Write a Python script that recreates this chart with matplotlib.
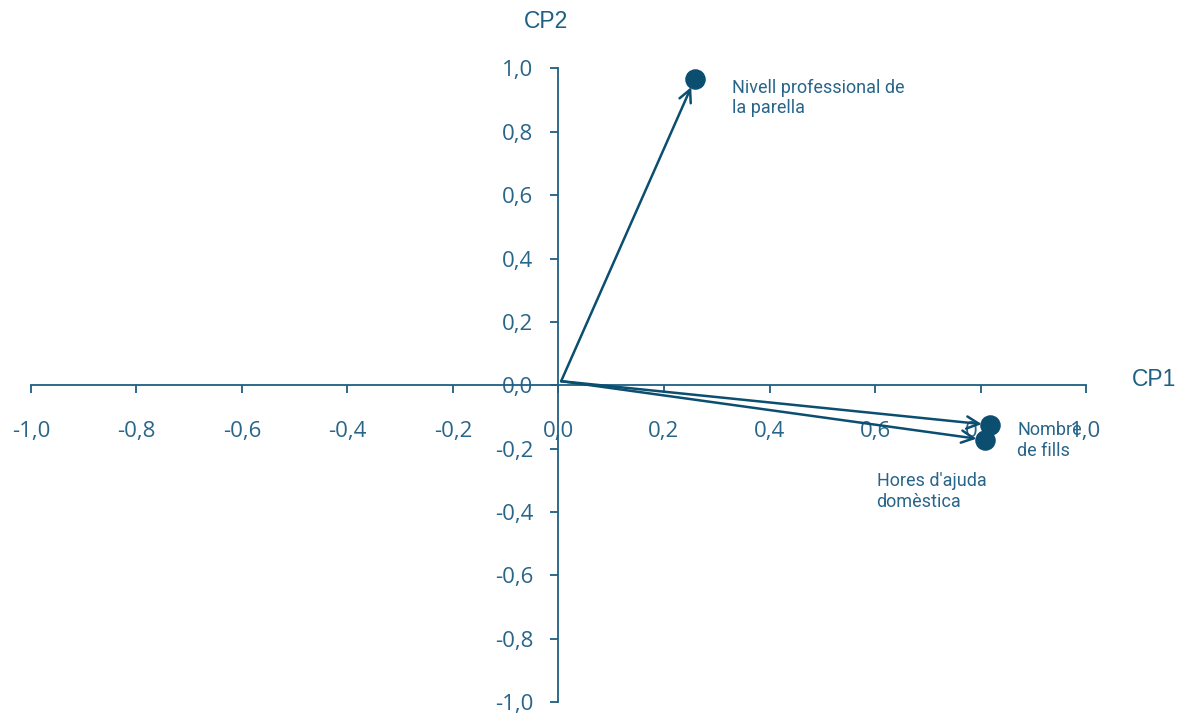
import numpy as np
import matplotlib.pyplot as plt
from matplotlib.ticker import FuncFormatter

# loadings on the first two components
variables = ["Nivell professional de\nla parella", "Nombre\nde fills", "Hores d'ajuda\ndomèstica"]
cp1 = [0.258, 0.818, 0.808]
cp2 = [0.965, -0.125, -0.172]
origin = (0.005, 0.013)
ticks = [-1.0, -0.8, -0.6, -0.4, -0.2, 0.0, 0.2, 0.4, 0.6, 0.8, 1.0]

axis_col = '#1f5f83'
text_col = '#28658a'
mark_col = '#0b4e70'

fig = plt.figure(figsize=(11.86, 7.14), dpi=100)
ax = fig.add_axes([0.0261, 0.0164, 0.8896, 0.8879])
ax.set_xlim(-1, 1)
ax.set_ylim(-1, 1)

for s in ['top', 'right']:
    ax.spines[s].set_visible(False)
for s in ['left', 'bottom']:
    ax.spines[s].set_position('zero')
    ax.spines[s].set_color(axis_col)
    ax.spines[s].set_linewidth(1.3)

fmt = FuncFormatter(lambda v, p: ('%.1f' % v).replace('.', ','))
ax.set_xticks(ticks)
ax.set_yticks(ticks)
ax.xaxis.set_major_formatter(fmt)
ax.yaxis.set_major_formatter(fmt)
ax.tick_params(axis='x', direction='out', length=6, width=1.3, color=axis_col,
               labelcolor=text_col, labelsize=16, pad=20)
ax.tick_params(axis='y', direction='out', length=6, width=1.3, color=axis_col,
               labelcolor=text_col, labelsize=16, pad=12)
for lab in ax.get_xticklabels() + ax.get_yticklabels():
    lab.set_family('Open Sans')

# arrows + points
for x, y in zip(cp1, cp2):
    ax.annotate('', xy=(x, y), xytext=origin,
                arrowprops=dict(arrowstyle='->', color=mark_col, lw=1.8,
                                mutation_scale=22, shrinkA=0, shrinkB=6))
ax.scatter(cp1, cp2, s=190, color=mark_col, zorder=5, clip_on=False)

# variable labels
offsets = [(0.07, 0.003), (0.052, 0.012), (-0.205, -0.103)]
for name, x, y, (dx, dy) in zip(variables, cp1, cp2, offsets):
    ax.text(x + dx, y + dy, name, color=text_col, fontsize=13, family='Roboto',
            va='top', ha='left', linespacing=1.2)

fig.text(0.9545, 0.468, 'CP1', color=axis_col, fontsize=16.5, family='Liberation Sans',
         ha='left', va='center')
fig.text(0.46, 0.970, 'CP2', color=axis_col, fontsize=16.5, family='Liberation Sans',
         ha='center', va='center')

fig.savefig('out.png', dpi=100)
